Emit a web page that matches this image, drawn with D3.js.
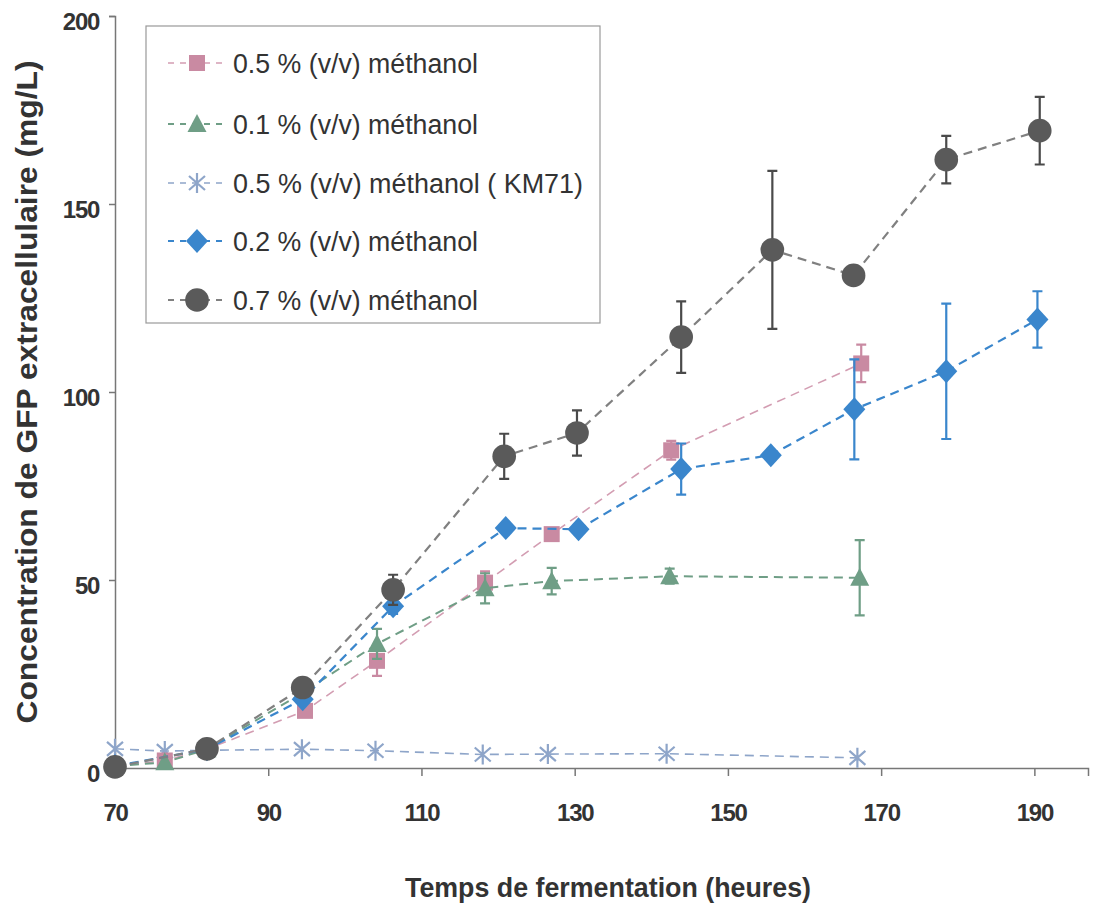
<!DOCTYPE html>
<html><head><meta charset="utf-8">
<script src="https://cdn.jsdelivr.net/npm/d3@7/dist/d3.min.js"></script>
<style>body{margin:0;background:#fff}svg{display:block}</style>
</head><body>
<svg id="c" width="1099" height="911"></svg>
<script>
// ---- data ----
const seriesNames = ["0.5 % (v/v) méthanol","0.1 % (v/v) méthanol","0.5 % (v/v) méthanol ( KM71)","0.2 % (v/v) méthanol","0.7 % (v/v) méthanol"];
const xTicks = [70,90,110,130,150,170,190];
const yTicks = [0,50,100,150,200];

const pinkT   = [70, 76.5, 82, 94.8, 104.2, 118.3, 127, 142.6, 167.4];
const pinkV   = [0.5, 2, 5, 15.2, 28.5, 49.3, 62.2, 84.5, 107.6];
const pinkE   = [0, 0, 0, 1.5, 4, 3, 1.5, 2.5, 5];

const greenT  = [70, 76.5, 82, 94.5, 104.2, 118.3, 127, 142.4, 167.2];
const greenV  = [0.5, 1.5, 5, 20, 33, 47.8, 49.7, 51, 50.6];
const greenE  = [0, 0, 0, 1, 4, 4, 3.5, 2, 10];

const starT   = [70, 76.5, 82, 94.4, 104, 118, 126.5, 142, 166.9];
const starV   = [5.1, 4.5, 4.7, 5, 4.6, 3.6, 3.7, 3.8, 2.7];

const blueT   = [70, 82, 94.5, 106.3, 121, 130.5, 143.9, 155.6, 166.5, 178.5, 190.4];
const blueV   = [0.5, 5, 18.3, 43, 63.8, 63.5, 79.5, 83.2, 95.4, 105.5, 119.3];
const blueE   = [0, 0, 1, 2, 1, 1, 6.8, 1, 13.3, 18, 7.5];

const grayT   = [70, 82, 94.5, 106.3, 120.8, 130.3, 143.9, 155.8, 166.4, 178.5, 190.7];
const grayV   = [0.3, 5.1, 21.4, 47.4, 82.9, 89.1, 114.6, 137.8, 131, 161.8, 169.5];
const grayE   = [0, 0, 1, 4, 6, 6, 9.5, 21, 1.5, 6.3, 9];

const svg = d3.select("#c");
const x = d3.scaleLinear().domain([70,197]).range([115,1088]);
const y = d3.scaleLinear().domain([0,200]).range([768,16]);

const font = "'Liberation Sans', Arial, sans-serif";

// axes
const gx = svg.append("g").attr("transform",`translate(0,${y(0)})`)
  .call(d3.axisBottom(x).tickValues(xTicks).tickSize(8).tickPadding(40).tickFormat(d3.format("d")));
const gy = svg.append("g").attr("transform",`translate(${x(70)},0)`)
  .call(d3.axisLeft(y).tickValues(yTicks).tickSize(6).tickPadding(10).tickFormat(d3.format("d")));
[gx,gy].forEach(g=>{
  g.select(".domain").attr("stroke","#777").attr("stroke-width",1.5);
  g.selectAll(".tick line").attr("stroke","#777").attr("stroke-width",1.5);
  g.selectAll(".tick text").attr("fill","#333").attr("font-family",font)
   .attr("font-weight","bold").attr("font-size",24).attr("letter-spacing",-1.3);
});
gy.selectAll(".tick text").attr("dy","0.55em");
gx.selectAll(".tick text").attr("dy","0.2em");

// axis titles
svg.append("text").attr("x",608).attr("y",897).attr("text-anchor","middle")
  .attr("font-family",font).attr("font-weight","bold").attr("font-size",27).attr("fill","#333")
  .attr("textLength",406).attr("lengthAdjust","spacingAndGlyphs")
  .text("Temps de fermentation (heures)");
svg.append("text").attr("transform","translate(37,392) rotate(-90)").attr("text-anchor","middle")
  .attr("font-family",font).attr("font-weight","bold").attr("font-size",29).attr("fill","#333")
  .attr("textLength",663).attr("lengthAdjust","spacingAndGlyphs")
  .text("Concentration de GFP extracellulaire (mg/L)");

// markers
function markerPath(kind){
  switch(kind){
    case "square": return "M-8,-8H8V8H-8Z";
    case "triangle": return "M0,-10L9.5,8H-9.5Z";
    case "diamond": return "M0,-12L11,0L0,12L-11,0Z";
    case "circle": return d3.symbol(d3.symbolCircle, 440)();
    case "star": return "M0,-10V10M-8,-7L8,7M-8,7L8,-7";
  }
}

const series = [
  {name:seriesNames[2], t:starT,  v:starV,  e:null,   kind:"star",     fill:"none",    stroke:"#8ea5c9", line:"#8ea5c9", lw:1.6},
  {name:seriesNames[0], t:pinkT,  v:pinkV,  e:pinkE,  kind:"square",   fill:"#c98aa2", stroke:"#c98aa2", line:"#d39db2", lw:1.6},
  {name:seriesNames[1], t:greenT, v:greenV, e:greenE, kind:"triangle", fill:"#6f9e86", stroke:"#6f9e86", line:"#6f9e86", lw:2},
  {name:seriesNames[3], t:blueT,  v:blueV,  e:blueE,  kind:"diamond",  fill:"#3a86cc", stroke:"#3a86cc", line:"#3a86cc", lw:2.2},
  {name:seriesNames[4], t:grayT,  v:grayV,  e:grayE,  kind:"circle",   fill:"#5a5a5a", stroke:"#4a4a4a", line:"#808080", lw:2.2}
];

const line = d3.line().x(d=>x(d[0])).y(d=>y(d[1]));
series.forEach(s=>{
  const g = svg.append("g");
  const pts = s.t.map((t,i)=>[t,s.v[i],s.e?s.e[i]:0]);
  g.append("path").attr("d",line(pts)).attr("fill","none").attr("stroke",s.line)
   .attr("stroke-width",s.lw).attr("stroke-dasharray","9,6");
  if(s.e){
    pts.filter(p=>p[2]>0).forEach(p=>{
      const cx=x(p[0]), y1=y(p[1]+p[2]), y2=y(p[1]-p[2]);
      g.append("path").attr("d",`M${cx},${y1}V${y2}M${cx-5},${y1}H${cx+5}M${cx-5},${y2}H${cx+5}`)
       .attr("stroke",s.stroke).attr("stroke-width",2.2).attr("fill","none");
    });
  }
  g.selectAll(".m").data(pts).join("path")
   .attr("transform",p=>`translate(${x(p[0])},${y(p[1])})`)
   .attr("d",markerPath(s.kind)).attr("fill",s.fill)
   .attr("stroke",s.kind==="star"?s.stroke:"none").attr("stroke-width",2.2);
});

// legend
const legOrder = [1,2,0,3,4];
const leg = svg.append("g");
leg.append("rect").attr("x",146).attr("y",26).attr("width",454).attr("height",297)
  .attr("fill","#fff").attr("stroke","#999").attr("stroke-width",1.2);
const rowY = [63,124,183,241,300];
legOrder.forEach((si,i)=>{
  const s = series[si], yy = rowY[i];
  leg.append("line").attr("x1",168).attr("x2",228).attr("y1",yy).attr("y2",yy)
    .attr("stroke",s.line).attr("stroke-width",s.lw).attr("stroke-dasharray","6,6");
  leg.append("path").attr("transform",`translate(197,${yy})`).attr("d",markerPath(s.kind))
    .attr("fill",s.fill).attr("stroke",s.kind==="star"?s.stroke:"none").attr("stroke-width",2.2);
  const w = [245,245,350,245,245][i];
  leg.append("text").attr("x",233).attr("y",yy+10).attr("font-family",font).attr("font-size",27)
    .attr("fill","#333").attr("textLength",w).attr("lengthAdjust","spacingAndGlyphs").text(s.name);
});
</script>
</body></html>
